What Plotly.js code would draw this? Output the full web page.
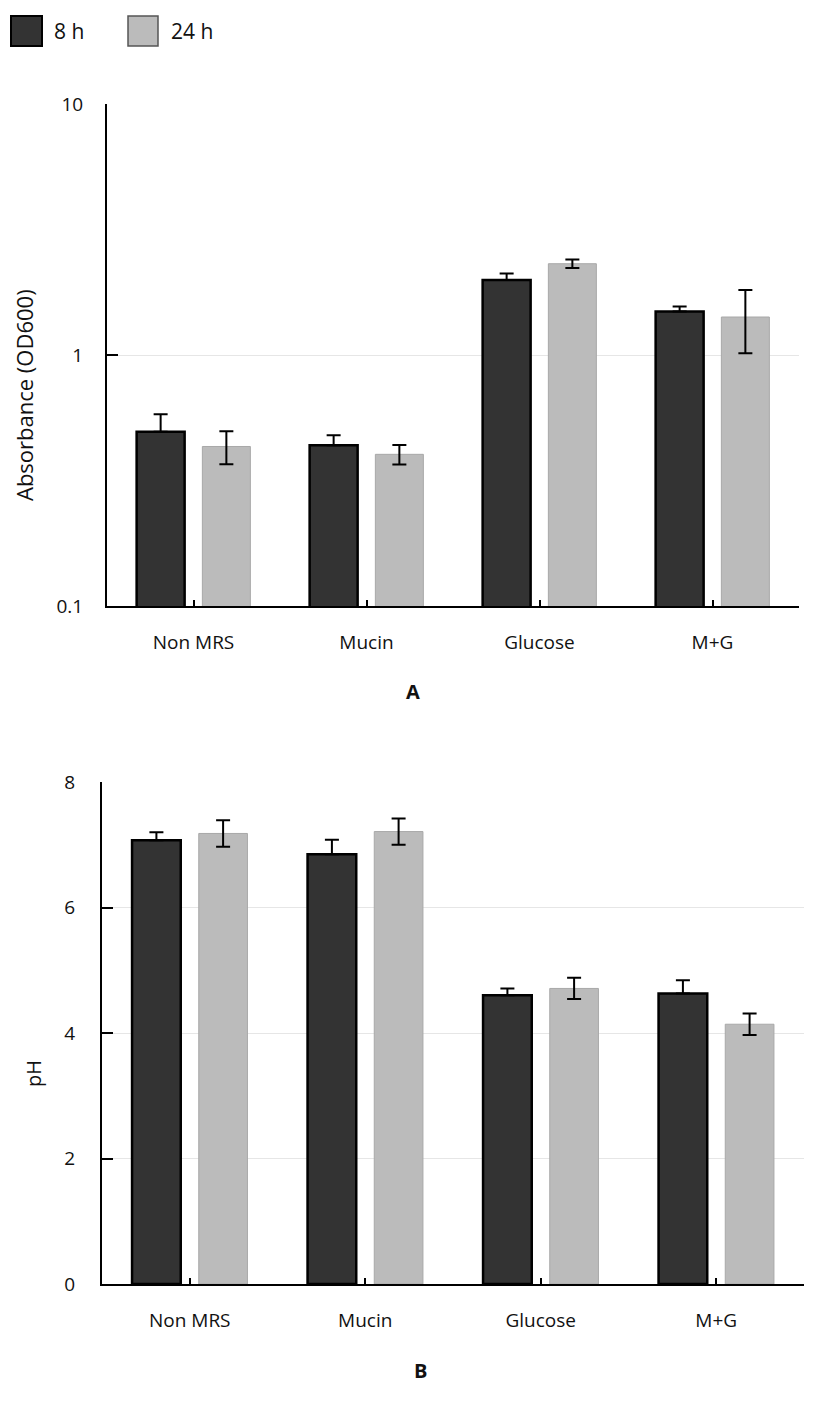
<!DOCTYPE html>
<html>
<head>
<meta charset="utf-8">
<script src="https://cdn.plot.ly/plotly-3.0.1.min.js"></script>
<style>html,body{margin:0;padding:0;background:#fff;}#chart{width:828px;height:1406px;}</style>
</head>
<body>
<div id="chart"></div>
<script>
const categories = ["Non MRS", "Mucin", "Glucose", "M+G"];
const seriesNames = ["8 h", "24 h"];
const od8 = [0.494, 0.437, 1.99, 1.49];
const od8Err = [0.087, 0.042, 0.12, 0.07];
const od24 = [0.432, 0.402, 2.31, 1.417];
const od24Err = [0.065, 0.036, 0.09, 0.40];
const ph8 = [7.07, 6.85, 4.60, 4.63];
const ph8Err = [0.13, 0.23, 0.11, 0.21];
const ph24 = [7.18, 7.21, 4.71, 4.14];
const ph24Err = [0.21, 0.21, 0.17, 0.17];
const odTicks = [0.1, 1, 10];
const odTickText = ["0.1", "1", "10"];
const phTicks = [0, 2, 4, 6, 8];
const odTitle = "Absorbance (OD600)";
const phTitle = "pH";

const W = 828, H = 1406;
const FONT = "Open Sans, Noto Sans, sans-serif";
const dark = "#333333", light = "#bbbbbb";
const zeros = categories.map(() => 0);

function bar(x, y, err, errMinus, name, color, lineColor, lineW, xa, ya) {
  const e = {type: "data", array: err, color: "#000", thickness: 2, width: 7};
  if (errMinus) { e.symmetric = false; e.arrayminus = errMinus; } else { e.symmetric = true; }
  return {type: "bar", x: x, y: y, name: name, xaxis: xa, yaxis: ya, showlegend: false,
    marker: {color: color, line: {color: lineColor, width: lineW}}, error_y: e};
}

const traces = [
  bar(categories, od8, od8Err, zeros, seriesNames[0], dark, "#000", 2.5, "x", "y"),
  bar(categories, od24, od24Err, null, seriesNames[1], light, "#a8a8a8", 1, "x", "y"),
  bar(categories, ph8, ph8Err, zeros, seriesNames[0], dark, "#000", 2.5, "x2", "y2"),
  bar(categories, ph24, ph24Err, null, seriesNames[1], light, "#a8a8a8", 1, "x2", "y2")
];

const px = v => v / W, py = v => 1 - v / H;
const xdomTop = [px(107), px(799)];
const xdomBot = [px(102), px(804)];
const ydomTop = [py(606), py(104)];
const ydomBot = [py(1284), py(782)];

const xbase = {
  type: "category", showline: true, linecolor: "#000", linewidth: 2,
  ticks: "inside", ticklen: 6, tickwidth: 2, tickcolor: "#000",
  tickfont: {family: FONT, size: 19, color: "#111"}, ticklabelstandoff: 18,
  showgrid: false, zeroline: false, fixedrange: true
};
const ybase = {
  showline: true, linecolor: "#000", linewidth: 2,
  ticks: "inside", ticklen: 11, tickwidth: 2, tickcolor: "#000",
  tickfont: {family: FONT, size: 19, color: "#111"}, ticklabelstandoff: 18,
  showgrid: true, gridcolor: "#e6e6e6", gridwidth: 1, zeroline: false
};
const stub = {
  overlaying: "y", side: "left", showline: false, showgrid: false, zeroline: false,
  ticks: "outside", ticklen: 20, tickwidth: 1, tickcolor: "#dddddd", showticklabels: false
};

const layout = {
  width: W, height: H, margin: {l: 0, r: 0, t: 0, b: 0},
  paper_bgcolor: "#fff", plot_bgcolor: "#fff",
  barmode: "group", bargap: 0.24, bargroupgap: 0.27,
  font: {family: FONT, color: "#111"},
  showlegend: false,
  xaxis: Object.assign({}, xbase, {domain: xdomTop, anchor: "y"}),
  yaxis: Object.assign({}, ybase, {domain: ydomTop, anchor: "x", type: "log",
    range: [-1, 1], tickvals: odTicks, ticktext: odTickText}),
  yaxis3: Object.assign({}, stub, {overlaying: "y", anchor: "x", type: "log",
    range: [-1, 1], tickvals: odTicks}),
  xaxis2: Object.assign({}, xbase, {domain: xdomBot, anchor: "y2"}),
  yaxis2: Object.assign({}, ybase, {domain: ydomBot, anchor: "x2",
    range: [0, 8], tickvals: phTicks, ticklabelstandoff: 21}),
  yaxis4: Object.assign({}, stub, {overlaying: "y2", anchor: "x2",
    range: [0, 8], tickvals: phTicks}),
  shapes: [
    {type: "rect", xref: "paper", yref: "paper", x0: px(11), x1: px(42), y0: py(46), y1: py(16),
      fillcolor: dark, line: {color: "#000", width: 2}},
    {type: "rect", xref: "paper", yref: "paper", x0: px(128), x1: px(158), y0: py(46), y1: py(16),
      fillcolor: light, line: {color: "#555", width: 1.5}}
  ],
  annotations: [
    {xref: "paper", yref: "paper", x: px(24), y: py(395), xanchor: "center", yanchor: "middle",
      textangle: -90, text: odTitle, showarrow: false, font: {family: FONT, size: 22, color: "#111"}},
    {xref: "paper", yref: "paper", x: px(33), y: py(1074), xanchor: "center", yanchor: "middle",
      textangle: -90, text: phTitle, showarrow: false, font: {family: FONT, size: 20, color: "#111"}},
    {xref: "paper", yref: "paper", x: px(52), y: py(31), xanchor: "left", yanchor: "middle",
      text: seriesNames[0], showarrow: false, font: {family: FONT, size: 21, color: "#111"}},
    {xref: "paper", yref: "paper", x: px(169), y: py(31), xanchor: "left", yanchor: "middle",
      text: seriesNames[1], showarrow: false, font: {family: FONT, size: 21, color: "#111"}},
    {xref: "paper", yref: "paper", x: px(413), y: py(692), xanchor: "center", yanchor: "middle",
      text: "<b>A</b>", showarrow: false, font: {family: FONT, size: 20, color: "#111"}},
    {xref: "paper", yref: "paper", x: px(420), y: py(1370), xanchor: "center", yanchor: "middle",
      text: "<b>B</b>", showarrow: false, font: {family: FONT, size: 20, color: "#111"}}
  ]
};

Plotly.newPlot("chart", traces, layout, {staticPlot: true, displayModeBar: false});
</script>
</body>
</html>
